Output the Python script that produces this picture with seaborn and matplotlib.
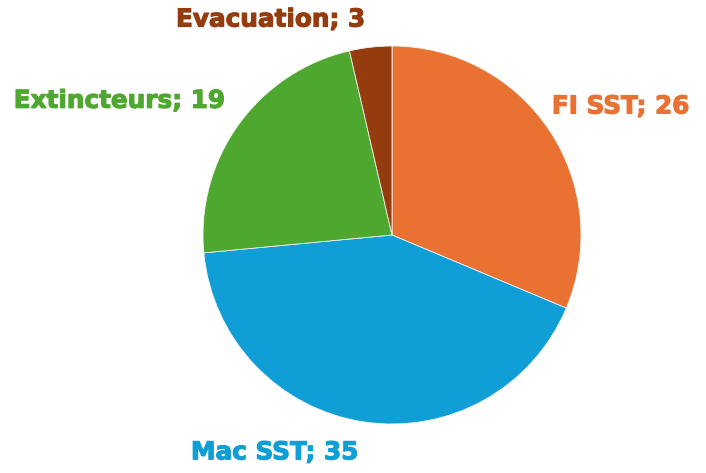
import matplotlib
matplotlib.use("Agg")
import matplotlib.pyplot as plt
import matplotlib.patheffects as pe
import seaborn as sns

# data
categories = ["FI SST", "Mac SST", "Extincteurs", "Evacuation"]
values = [26, 35, 19, 3]
colors = ["#E97132", "#0F9ED5", "#4EA72E", "#953C0E"]

# label positions (data units, radius = 1)
label_pos = [(1.21, 0.68), (-0.62, -1.15), (-1.44, 0.71), (-0.64, 1.14)]

sns.set_style("white")
plt.rcParams['font.family'] = ['DejaVu Sans']

fig = plt.figure(figsize=(7.06, 4.73), dpi=100)
ax = fig.add_axes([203/706, 49/473, 378/706, 378/473])

labels = [f"{c}; {v}" for c, v in zip(categories, values)]
wedges, texts = ax.pie(values, labels=labels, colors=colors, startangle=90,
                       counterclock=False, radius=1,
                       wedgeprops=dict(edgecolor="#f2f2f2", linewidth=0.6))

for t, col, pos in zip(texts, colors, label_pos):
    t.set_position(pos)
    t.set_color(col)
    t.set_fontsize(17.8)
    t.set_fontweight("bold")
    t.set_ha("center")
    t.set_va("center")
    # heavier look like the original
    t.set_path_effects([pe.withStroke(linewidth=0.8, foreground=col)])

ax.set_xlim(-1, 1)
ax.set_ylim(-1, 1)
ax.set_aspect("equal")
ax.axis("off")

fig.savefig("out.png", dpi=100)
